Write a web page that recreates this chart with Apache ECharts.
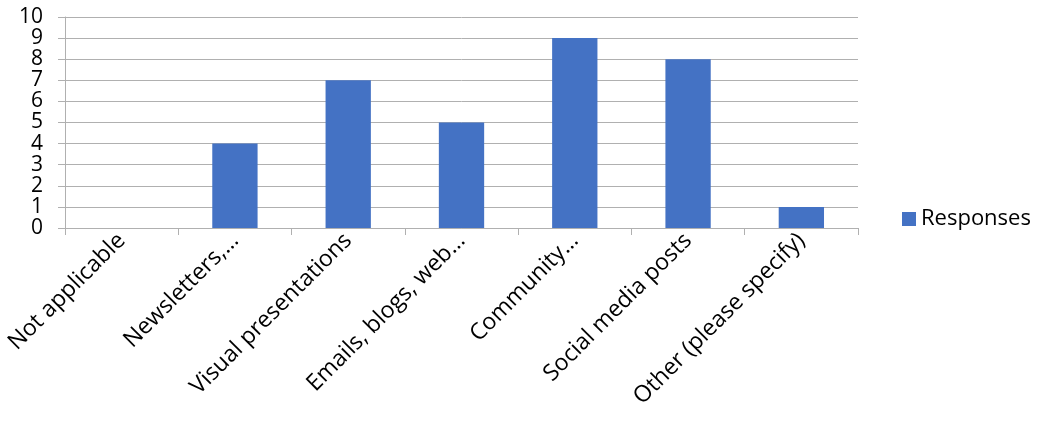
<!DOCTYPE html>
<html>
<head>
<meta charset="utf-8">
<script src="https://cdn.jsdelivr.net/npm/echarts@6/dist/echarts.min.js"></script>
<style>
  html, body { margin: 0; padding: 0; background: #fff; }
  #chart { width: 1039px; height: 430px; }
</style>
</head>
<body>
<div id="chart"></div>
<script>
// Survey answers: how results are shared
const categories = [
  'Not applicable',
  'Newsletters,…',
  'Visual presentations',
  'Emails, blogs, web…',
  'Community…',
  'Social media posts',
  'Other (please specify)'
];
const responses = [0, 4, 7, 5, 9, 8, 1];
const seriesName = 'Responses';
const yTicks = [0, 1, 2, 3, 4, 5, 6, 7, 8, 9, 10];

const fontFamily = '"Open Sans", Lato, sans-serif';
const gridColor = '#b0b0b0';

const chart = echarts.init(document.getElementById('chart'), null, { renderer: 'canvas' });
chart.setOption({
  animation: false,
  backgroundColor: '#ffffff',
  textStyle: { fontFamily: fontFamily },
  grid: { left: 65, top: 17, right: 181, bottom: 202, containLabel: false },
  legend: {
    orient: 'vertical',
    left: 902,
    top: 208,
    padding: 0,
    icon: 'rect',
    itemWidth: 14,
    itemHeight: 14,
    itemGap: 8,
    data: [seriesName],
    textStyle: { fontSize: 22, color: '#000', fontFamily: fontFamily }
  },
  xAxis: {
    type: 'category',
    data: categories,
    axisLine: { show: true, lineStyle: { color: gridColor, width: 1 } },
    axisTick: { show: true, length: 7, lineStyle: { color: gridColor } },
    axisLabel: {
      rotate: 45,
      interval: 0,
      margin: 9,
      fontSize: 23,
      color: '#000',
      hideOverlap: false,
      fontFamily: fontFamily
    },
    splitLine: { show: false }
  },
  yAxis: {
    type: 'value',
    min: yTicks[0],
    max: yTicks[yTicks.length - 1],
    interval: 1,
    axisLine: { show: true, lineStyle: { color: gridColor, width: 1 } },
    axisTick: { show: true, inside: false, length: 7, lineStyle: { color: gridColor } },
    axisLabel: {
      fontSize: 21,
      color: '#000',
      margin: 22,
      showMinLabel: true,
      showMaxLabel: true,
      hideOverlap: false,
      fontFamily: fontFamily
    },
    splitLine: { show: true, lineStyle: { color: gridColor, width: 1 } }
  },
  series: [{
    name: seriesName,
    type: 'bar',
    data: responses,
    barCategoryGap: '60%',
    itemStyle: { color: '#4472C4' }
  }]
});
</script>
</body>
</html>
